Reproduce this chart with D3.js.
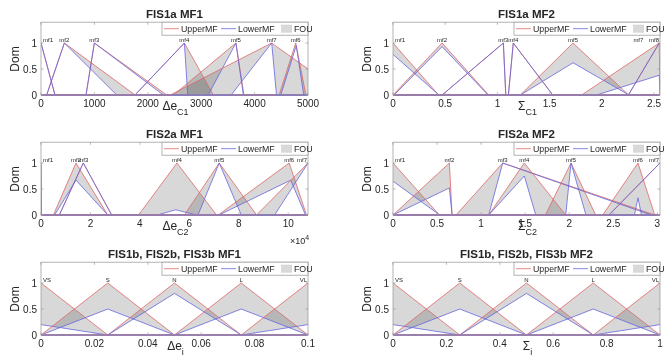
<!DOCTYPE html>
<html>
<head>
<meta charset="utf-8">
<script src="https://cdn.jsdelivr.net/npm/d3@7"></script>
<style>
body { margin: 0; background: #fff; }
text { font-family: "Liberation Sans", Arial, sans-serif; fill: #262626; }
</style>
</head>
<body>
<div class="chart"></div>
<script>
// type-2 triangular MFs: upper = [a, b, c], lower = [a, b, c, height]

// FIS1a MF1
var fis1aMf1Names = ["mf1", "mf2", "mf3", "mf4", "mf5", "mf6", "mf7"];
var fis1aMf1Upper = [[-262, 0, 262], [106, 437, 1762], [843, 999, 2354], [1760, 2685, 3228], [2480, 3650, 3800], [4460, 4770, 4960], [2420, 4320, 5680]];
var fis1aMf1Lower = [[-262, 0, 262, 1], [106, 437, 1418, 1], [843, 999, 2292, 1], [1760, 2685, 2747, 1], [3130, 3650, 3790, 1], [4490, 4780, 4920, 0.95], [3560, 4320, 4410, 1]];
var fis1aMf1Ticks = [0, 1000, 2000, 3000, 4000, 5000];

// FIS1a MF2
var fis1aMf2Names = ["mf1", "mf2", "mf3", "mf4", "mf5", "mf7", "mf8"];
var fis1aMf2Upper = [[-0.44, 0, 0.437], [0, 0.47, 0.917], [0.47, 1.057, 1.08], [1.105, 1.152, 1.53], [1.22, 1.724, 2.257], [1.807, 2.55, 2.557], [2.254, 2.55, 2.86]];
var fis1aMf2Lower = [[-0.44, 0, 0.44, 0.78], [0.01, 0.47, 0.91, 0.93], [0.47, 1.057, 1.08, 1], [1.105, 1.152, 1.53, 1], [1.22, 1.724, 2.26, 0.62], [1.95, 2.55, 2.557, 0.38], [2.254, 2.55, 2.86, 1]];
var fis1aMf2LabelAt = [null, null, null, null, null, 2.35, null];
var fis1aMf2Ticks = [0, 0.5, 1, 1.5, 2, 2.5];

// FIS2a MF1
var fis2aMf1Names = ["mf1", "mf2", "mf3", "mf4", "mf5", "mf6", "mf7"];
var fis2aMf1Upper = [[-200, 0, 200], [5000, 14150, 27000], [7400, 17100, 28600], [39500, 55000, 71000], [58000, 72100, 87200], [71700, 100400, 107400], [87200, 108000, 130000]];
var fis2aMf1Lower = [[-200, 0, 200, 1], [5500, 14150, 27000, 0.67], [7400, 17100, 28600, 1], [47000, 54500, 63000, 0.1], [63500, 72100, 81000, 1], [72000, 101000, 107000, 0.67], [94500, 108000, 130000, 1]];
var fis2aMf1Ticks = [0, 20000, 40000, 60000, 80000, 100000];

// FIS2a MF2
var fis2aMf2Names = ["mf1", "mf2", "mf3", "mf4", "mf5", "mf6", "mf7"];
var fis2aMf2Upper = [[-0.526, 0, 0.526], [0, 0.64, 0.67], [0.715, 1.245, 2.97], [1.086, 1.49, 1.96], [1.73, 2.02, 2.30], [2.38, 2.78, 2.97], [2.45, 3.03, 3.6]];
var fis2aMf2Lower = [[-0.53, 0, 0.53, 0.65], [0, 0.64, 0.67, 0.52], [1.086, 1.245, 2.93, 1], [1.086, 1.49, 1.62, 0.75], [1.96, 2.02, 2.19, 1], [2.74, 2.78, 2.82, 0.33], [2.45, 3.03, 3.6, 1]];
var fis2aMf2Ticks = [0, 0.5, 1, 1.5, 2, 2.5, 3];

// FIS1b, FIS2b, FIS3b
var fisbNames = ["VS", "S", "N", "L", "VL"];
var fisbMf1Upper = [[-0.025, 0, 0.025], [0, 0.025, 0.05], [0.025, 0.05, 0.075], [0.05, 0.075, 0.1], [0.075, 0.1, 0.125]];
var fisbMf1Lower = [[-0.025, 0, 0.025, 0.2], [0, 0.025, 0.05, 0.5], [0.025, 0.05, 0.075, 0.8], [0.05, 0.075, 0.1, 0.5], [0.075, 0.1, 0.125, 0.2]];
var fisbMf1Ticks = [0, 0.02, 0.04, 0.06, 0.08, 0.1];
var fisbMf2Upper = [[-0.25, 0, 0.25], [0, 0.25, 0.5], [0.25, 0.5, 0.75], [0.5, 0.75, 1], [0.75, 1, 1.25]];
var fisbMf2Lower = [[-0.25, 0, 0.25, 0.2], [0, 0.25, 0.5, 0.5], [0.25, 0.5, 0.75, 0.8], [0.5, 0.75, 1, 0.5], [0.75, 1, 1.25, 0.2]];
var fisbMf2Ticks = [0, 0.2, 0.4, 0.6, 0.8, 1];

var domTicks = [0, 0.5, 1];

var svgWidth = 664;
var svgHeight = 360;
var plotW = 267;
var colX = [41, 393];
var rowBottom = [95, 215, 335];
var upperColor = "#e06666";
var lowerColor = "#6666e0";
var fouColor = "#d8d8d8";
var axisColor = "#a0a0a0";

var svg = d3.select(".chart")
    .append("svg")
    .attr("width", svgWidth)
    .attr("height", svgHeight);

var panels = [
    {col: 0, row: 0, title: "FIS1a MF1", xl: "\u0394e", sub: "C1", domain: [0, 5000], ticks: fis1aMf1Ticks, names: fis1aMf1Names, upper: fis1aMf1Upper, lower: fis1aMf1Lower},
    {col: 1, row: 0, title: "FIS1a MF2", xl: "\u03a3", sub: "C1", domain: [0, 2.557], ticks: fis1aMf2Ticks, names: fis1aMf2Names, upper: fis1aMf2Upper, lower: fis1aMf2Lower, labelAt: fis1aMf2LabelAt},
    {col: 0, row: 1, title: "FIS2a MF1", xl: "\u0394e", sub: "C2", domain: [0, 108000], ticks: fis2aMf1Ticks, names: fis2aMf1Names, upper: fis2aMf1Upper, lower: fis2aMf1Lower, exp: true},
    {col: 1, row: 1, title: "FIS2a MF2", xl: "\u03a3", sub: "C2", domain: [0, 3.03], ticks: fis2aMf2Ticks, names: fis2aMf2Names, upper: fis2aMf2Upper, lower: fis2aMf2Lower},
    {col: 0, row: 2, title: "FIS1b, FIS2b, FIS3b MF1", xl: "\u0394e", sub: "i", domain: [0, 0.1], ticks: fisbMf1Ticks, names: fisbNames, upper: fisbMf1Upper, lower: fisbMf1Lower},
    {col: 1, row: 2, title: "FIS1b, FIS2b, FIS3b MF2", xl: "\u03a3", sub: "i", domain: [0, 1], ticks: fisbMf2Ticks, names: fisbNames, upper: fisbMf2Upper, lower: fisbMf2Lower}
];

function tri(p, h, v) {
    if (v < p[0] || v > p[2]) return 0;
    if (v === p[1]) return h;
    if (v < p[1]) return h * (v - p[0]) / (p[1] - p[0]);
    return h * (p[2] - v) / (p[2] - p[1]);
}

panels.forEach(function(p, pi) {
    var x0 = colX[p.col];
    var yb = rowBottom[p.row];
    var x = d3.scaleLinear().domain(p.domain).range([x0, x0 + plotW]);
    var y = d3.scaleLinear().domain([0, 1.4]).range([yb, yb - 72.8]);
    var g = svg.append("g");

    g.append("clipPath").attr("id", "clip" + pi)
        .append("rect")
        .attr("x", x0).attr("y", y(1.4))
        .attr("width", plotW).attr("height", yb - y(1.4) + 1);

    var plot = g.append("g").attr("clip-path", "url(#clip" + pi + ")");
    var line = d3.line().x(function(d) { return x(d[0]); }).y(function(d) { return y(d[1]); });

    var curves = p.upper.map(function(u, i) {
        var l = p.lower[i];
        var xs = [p.domain[0], p.domain[1], u[0], u[1], u[2], l[0], l[1], l[2]]
            .filter(function(v) { return v >= p.domain[0] && v <= p.domain[1]; });
        xs = Array.from(new Set(xs)).sort(d3.ascending);
        return {
            up: xs.map(function(v) { return [v, tri(u, 1, v)]; }),
            lo: xs.map(function(v) { return [v, tri(l, l[3], v)]; })
        };
    });

    // FOU, overlaps get darker
    var fous = plot.append("g").style("isolation", "isolate");
    curves.forEach(function(c) {
        fous.append("path")
            .attr("d", line(c.up.concat(c.lo.slice().reverse())) + "Z")
            .attr("fill", fouColor)
            .attr("fill-rule", "evenodd")
            .attr("stroke", "none")
            .style("mix-blend-mode", "multiply");
    });
    curves.forEach(function(c) {
        plot.append("path").attr("d", line(c.up))
            .attr("fill", "none").attr("stroke", upperColor).attr("stroke-width", 0.8);
        plot.append("path").attr("d", line(c.lo))
            .attr("fill", "none").attr("stroke", lowerColor).attr("stroke-width", 0.8);
    });

    // MF labels
    p.upper.forEach(function(u, i) {
        var t = g.append("text")
            .attr("y", y(1) - 1.5)
            .attr("font-size", 6)
            .text(p.names[i]);
        var w = t.node().getComputedTextLength();
        var at = (p.labelAt && p.labelAt[i] != null) ? p.labelAt[i] : u[1];
        var cx = x(at) - w / 2;
        cx = Math.max(x0 + 2, Math.min(x0 + plotW - w - 1, cx));
        t.attr("x", cx);
    });

    // box
    g.append("rect")
        .attr("x", x0).attr("y", y(1.4))
        .attr("width", plotW).attr("height", yb - y(1.4))
        .attr("fill", "none").attr("stroke", axisColor).attr("stroke-width", 0.8);

    // ticks
    p.ticks.forEach(function(v) {
        g.append("line").attr("x1", x(v)).attr("x2", x(v)).attr("y1", yb).attr("y2", yb - 2.5)
            .attr("stroke", axisColor).attr("stroke-width", 0.8);
        g.append("line").attr("x1", x(v)).attr("x2", x(v)).attr("y1", y(1.4)).attr("y2", y(1.4) + 2.5)
            .attr("stroke", axisColor).attr("stroke-width", 0.8);
        g.append("text").attr("x", x(v)).attr("y", yb + 12)
            .attr("text-anchor", "middle").attr("font-size", 10)
            .text(p.exp ? v / 10000 : v);
    });
    domTicks.forEach(function(v) {
        g.append("line").attr("x1", x0).attr("x2", x0 + 2.5).attr("y1", y(v)).attr("y2", y(v))
            .attr("stroke", axisColor).attr("stroke-width", 0.8);
        g.append("line").attr("x1", x0 + plotW).attr("x2", x0 + plotW - 2.5).attr("y1", y(v)).attr("y2", y(v))
            .attr("stroke", axisColor).attr("stroke-width", 0.8);
        g.append("text").attr("x", x0 - 4).attr("y", y(v) + 3.5)
            .attr("text-anchor", "end").attr("font-size", 10)
            .text(v);
    });

    // title
    g.append("text").attr("x", x0 + plotW / 2).attr("y", y(1.4) - 4)
        .attr("text-anchor", "middle").attr("font-size", 11.5).attr("font-weight", "bold")
        .text(p.title);

    // y label
    g.append("text")
        .attr("transform", "translate(" + (x0 - 22) + "," + (yb - 36) + ") rotate(-90)")
        .attr("text-anchor", "middle").attr("font-size", 12)
        .text("Dom");

    // x label
    var xt = g.append("text").attr("x", x0 + plotW / 2 + 1).attr("y", yb + 15)
        .attr("text-anchor", "middle").attr("font-size", 12);
    xt.append("tspan").text(p.xl);
    xt.append("tspan").attr("dy", 5).attr("font-size", 9).text(p.sub);

    if (p.exp) {
        var et = g.append("text").attr("x", x0 + plotW - 18).attr("y", yb + 29).attr("font-size", 9);
        et.append("tspan").text("\u00d710");
        et.append("tspan").attr("dy", -4).attr("font-size", 7).text("4");
    }

    // legend
    var lx = x0 + 121, ly = y(1.4);
    var lg = g.append("g");
    lg.append("rect").attr("x", lx).attr("y", ly).attr("width", plotW - 121).attr("height", 13)
        .attr("fill", "#fff").attr("stroke", axisColor).attr("stroke-width", 0.8);
    lg.append("line").attr("x1", lx + 2).attr("x2", lx + 17).attr("y1", ly + 6.5).attr("y2", ly + 6.5)
        .attr("stroke", upperColor).attr("stroke-width", 0.8);
    lg.append("text").attr("x", lx + 19).attr("y", ly + 9.8).attr("font-size", 8.8).text("UpperMF");
    lg.append("line").attr("x1", lx + 59).attr("x2", lx + 74).attr("y1", ly + 6.5).attr("y2", ly + 6.5)
        .attr("stroke", lowerColor).attr("stroke-width", 0.8);
    lg.append("text").attr("x", lx + 76).attr("y", ly + 9.8).attr("font-size", 8.8).text("LowerMF");
    lg.append("rect").attr("x", lx + 119).attr("y", ly + 2.5).attr("width", 11).attr("height", 8)
        .attr("fill", fouColor);
    lg.append("text").attr("x", lx + 132).attr("y", ly + 9.8).attr("font-size", 8.8).text("FOU");
});
</script>
</body>
</html>
